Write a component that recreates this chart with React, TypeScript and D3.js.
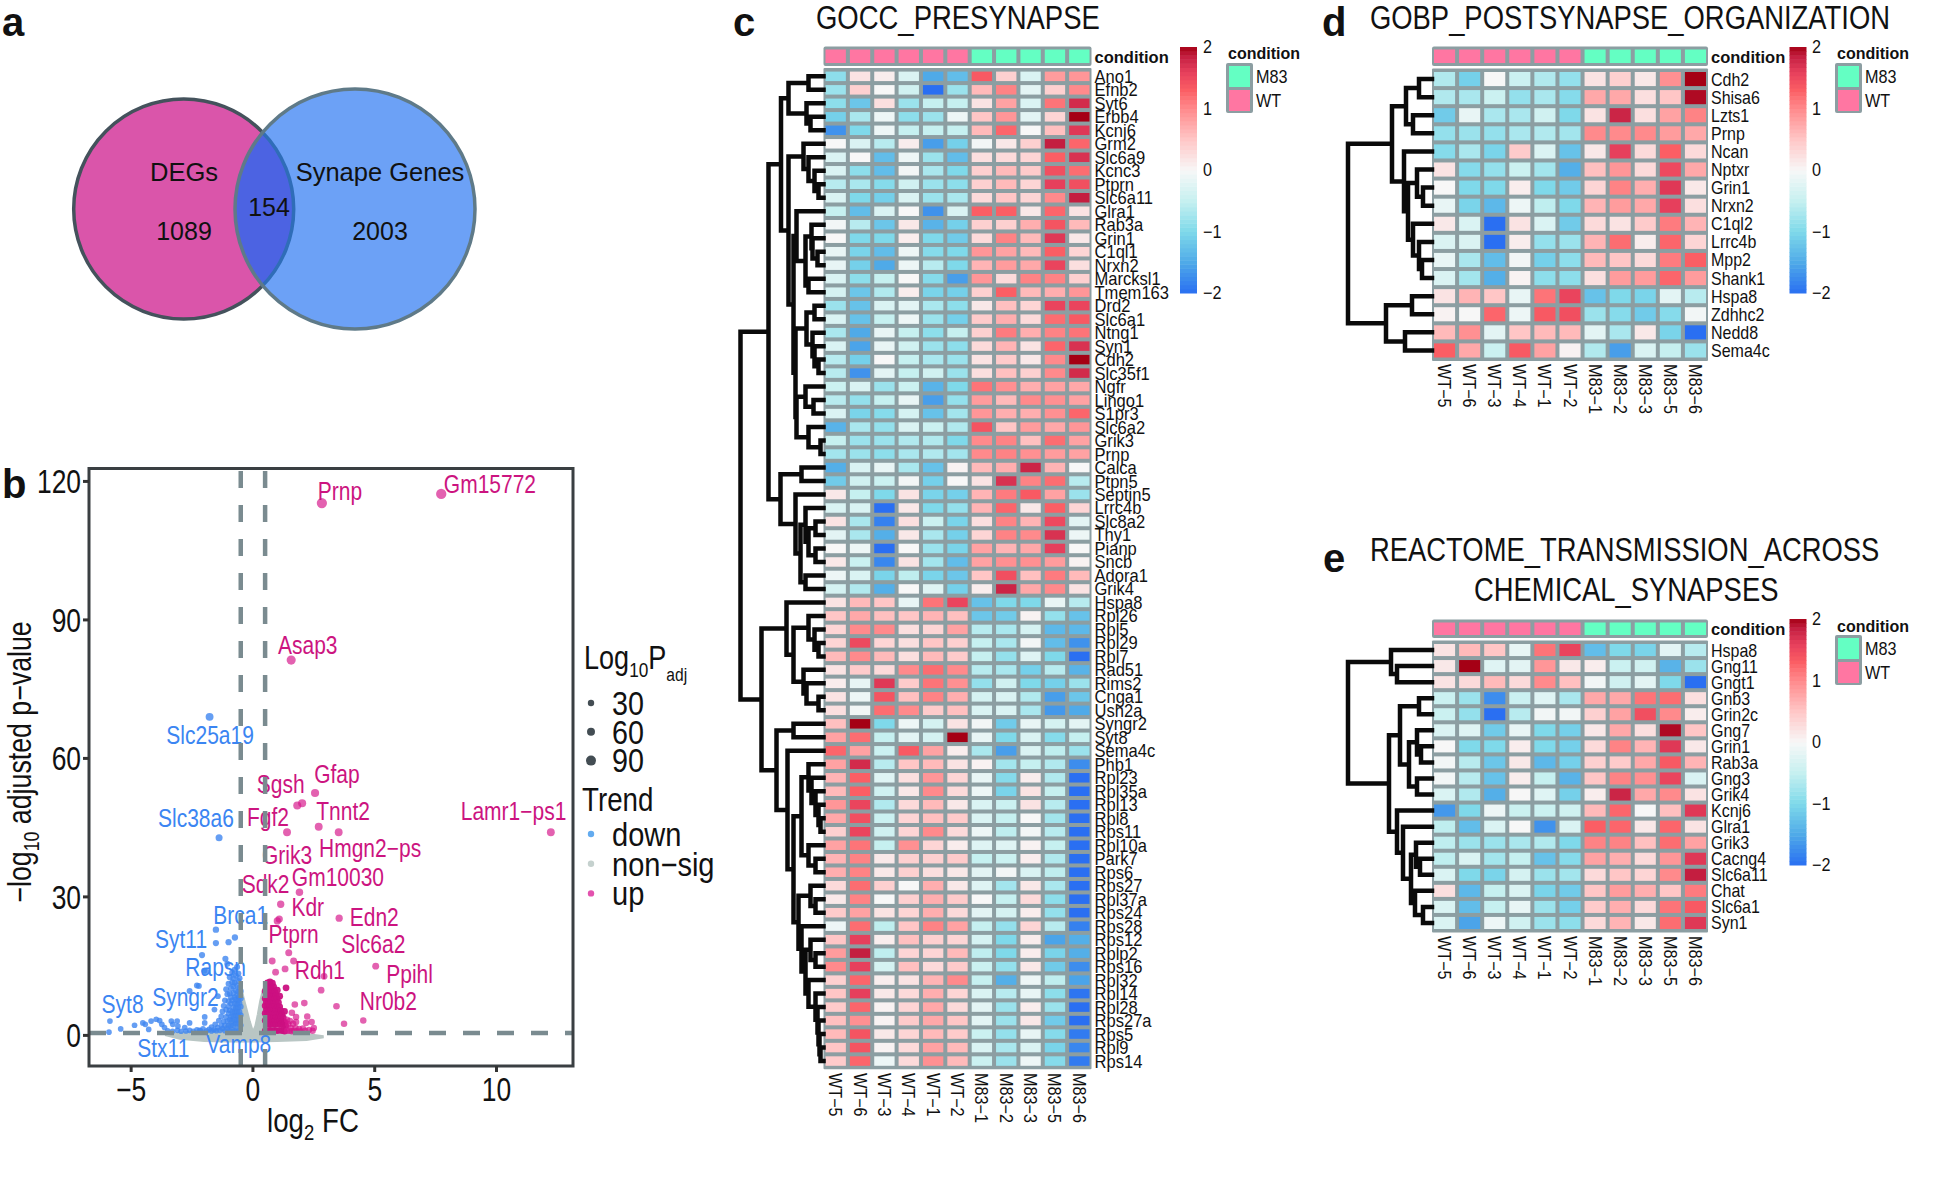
import React from "react";
import * as d3 from "d3";

const FONT = "'Liberation Sans', Arial, sans-serif";
const GRID = "#8C9EA2";
const samples = ["WT−5","WT−6","WT−3","WT−4","WT−1","WT−2","M83−1","M83−2","M83−3","M83−5","M83−6"];
const conditionRow = ["WT","WT","WT","WT","WT","WT","M83","M83","M83","M83","M83"];
const conditionColor: Record<string,string> = { WT: "#FF76A2", M83: "#64FFC3" };

const genesC = ["Ano1","Efnb2","Syt6","Erbb4","Kcnj6","Grm2","Slc6a9","Kcnc3","Ptprn","Slc6a11","Glra1","Rab3a","Grin1","C1ql1","Nrxn2","Marcksl1","Tmem163","Drd2","Slc6a1","Ntng1","Syn1","Cdh2","Slc35f1","Ngfr","Lingo1","S1pr3","Slc6a2","Grik3","Prnp","Calca","Ptpn5","Septin5","Lrrc4b","Slc8a2","Thy1","Pianp","Sncb","Adora1","Grik4","Hspa8","Rpl26","Rpl5","Rpl29","Rpl7","Rad51","Rims2","Cnga1","Ush2a","Syngr2","Syt8","Sema4c","Phb1","Rpl23","Rpl35a","Rpl13","Rpl8","Rps11","Rpl10a","Park7","Rps6","Rps27","Rpl37a","Rps24","Rps28","Rps12","Rplp2","Rps16","Rpl32","Rpl14","Rpl28","Rps27a","Rps5","Rpl9","Rps14"];
const valuesC = [
[-0.9,0.2,0.1,-0.3,-1.5,-1.3,1.35,0.4,-0.3,0.85,0.9],
[-0.8,0.4,0,-0.4,-2,-0.8,0.6,1.05,-0.2,0.4,1],
[-0.9,-1.2,0.25,-0.8,-0.5,-0.5,0.2,0.8,-0.3,1.15,1.75],
[-1.1,-0.7,-0.1,-0.9,-0.8,-0.1,0.5,0.9,-0.2,0.35,2],
[-1.7,-1,-0.1,-0.5,-0.5,-0.5,0.6,1.25,0,0.55,1.65],
[0,-0.3,-0.6,0.1,-1.6,-1.1,-0.05,0.15,0.4,1.85,1.25],
[-0.3,0,-1.3,-0.1,-0.8,-1.3,0.25,0.3,0.35,1.3,1.7],
[-0.3,-0.9,-1.3,-0.05,-0.7,-1,0.4,0.6,0.45,1.45,1.2],
[-0.6,-0.7,-0.95,-0.4,-0.8,-0.9,0.4,0.6,0.35,1.6,1.45],
[-0.3,-1,-1.1,-0.3,-0.8,-0.7,0.3,0.5,0.35,1,1.85],
[-0.5,-1.3,-0.3,0,-1.7,-0.3,1.3,1.3,0.15,1.25,0.2],
[-0.05,-0.6,-1.2,0.15,-1.4,-1.1,0.4,0.4,0.7,1.4,0.6],
[0,-1,-1,0.1,-1,-1.15,0.3,1.05,0.6,1.65,0.15],
[-0.15,-1.05,-1.3,-0.1,-0.95,-1,0.9,0.8,0.6,1.3,0.35],
[-0.15,-1.1,-1.5,-0.1,-0.6,-1,0.65,0.85,0.75,1.55,0.25],
[-0.3,-0.9,-0.5,0,-0.95,-1.6,0.9,0.3,1.05,1.05,0.4],
[-0.35,-1.2,-0.65,0.1,-1.05,-1.1,0.4,1.3,0.6,0.7,0.9],
[-0.8,-1.25,-0.3,-0.2,-0.7,-0.9,0.15,0.55,0.35,1.55,1.55],
[-0.3,-1.25,-0.5,-0.1,-0.8,-1.1,0.45,0.7,0.3,1.2,1.35],
[-0.7,-1.5,-0.15,-0.5,-0.9,-0.5,0.4,1.1,0.7,1.05,1.15],
[-0.3,-1.55,-0.15,-0.4,-0.8,-0.9,0.3,0.65,0.2,1.25,1.7],
[-0.6,-1.1,0,-0.5,-0.7,-0.8,0.2,0.45,0.15,1,2],
[-0.6,-1.7,-0.2,-0.5,-0.4,-0.8,0.25,0.55,0.4,1,1.75],
[-0.45,-0.3,-0.8,-0.45,-1.4,-1,1.15,0.95,0.7,0.8,0.75],
[-0.6,-0.85,-0.5,-0.15,-1.6,-0.85,0.85,0.6,1,0.95,0.8],
[-0.3,-1.05,-0.95,-0.35,-1.25,-0.75,0.9,0.7,0.7,0.95,1.25],
[-1.4,-0.7,-0.85,-0.3,-0.45,-0.65,1.4,0.5,0.85,0.75,0.9],
[-0.5,-0.8,-0.8,-0.65,-0.65,-1,1,1.05,0.55,1.2,0.8],
[-0.75,-0.8,-0.9,-0.7,-0.65,-0.75,1,1.05,0.95,0.85,0.8],
[-1.45,-0.3,-0.15,-0.7,-1.25,0.05,0.6,0.7,1.8,0.65,0],
[-1.15,-0.4,-0.45,-0.05,-1.1,0,0.2,1.7,1.05,1.2,-0.6],
[0.15,-0.5,-1,0.2,-1.05,-1.1,0.65,1.1,1.35,0.8,-0.8],
[-0.3,-0.3,-2,0.15,-1,-0.85,0.65,1.25,0.15,1.3,0.35],
[0.2,-0.7,-1.85,0.25,-0.45,-1.05,0.25,1.05,0.65,1.5,-0.2],
[-0.2,-0.7,-1.45,0.15,-0.7,-1.1,0.35,1.05,1,1.7,-0.1],
[0,-0.1,-2,0,-0.8,-1.05,0.8,0.65,0.75,1.6,0],
[0.15,-0.45,-1.8,0.2,-0.75,-1.3,0.8,0.95,0.95,0.85,0.05],
[-0.1,-0.3,-1.05,-0.55,-1.05,-1.2,0.5,1.45,0.55,1.1,0.6],
[-0.35,-0.65,-1.45,0,-0.25,-1.1,0.1,1.8,0.75,1,0.2],
[0.2,0.6,0.5,-0.15,1.15,1.55,-1.25,-1,-1,-0.15,-0.6],
[0.5,0.75,0.55,0.5,0.65,0.55,-1.2,-1.15,0.05,-0.85,-1.25],
[0.35,1,1,0.25,0.35,0.8,-0.6,-0.7,-0.35,-1.35,-1.35],
[0.35,1.5,0.35,0.25,0.5,0.4,-0.5,-0.7,-0.05,-1.3,-1.7],
[0.6,1,0.6,0.25,0.6,0.45,-0.5,-0.85,-0.25,-1,-2],
[0.2,0.45,0.3,1,1.2,1,-0.6,-0.7,-1.1,-0.6,-1.4],
[0.1,-0.15,1.65,0.45,1.15,0.95,-0.85,-0.4,-1,-1.1,-0.8],
[0.2,-0.1,1.4,0.55,1.05,0.7,-0.35,-0.3,-0.65,-1.6,-1.2],
[0.25,-0.05,1.2,1,0.45,0.55,-0.3,-0.3,-0.7,-1.65,-1.5],
[0.55,2,-1,-0.1,-0.35,0.2,-0.05,-1.15,-0.15,-0.35,-0.2],
[0.8,1.2,-0.5,-0.2,-0.35,2,-0.15,-1,-0.3,-0.95,-0.5],
[1.25,0.8,-0.45,1.35,0.8,0.1,-0.7,-1.6,-0.3,-0.55,-0.8],
[0.8,1.75,-0.6,0.5,0.6,0.2,0.05,-0.75,-0.5,-0.65,-1.75],
[0.65,1.3,-0.25,0.25,0.9,0.35,-0.15,-0.95,0.1,-0.65,-2],
[0.6,1.3,-0.4,0.15,1,0.3,-0.1,-1.05,0.2,-0.5,-2],
[0.9,1.55,-0.65,0.3,0.6,0.15,-0.3,-0.45,0.2,-0.6,-2],
[0.75,1.45,-0.45,0.35,0.55,0.45,-0.3,-0.5,0,-0.75,-2],
[0.4,1.55,-0.4,0.35,1,0.3,-0.1,-0.55,-0.05,-0.6,-2],
[0.8,1.15,-0.5,0.95,0.35,0.1,-0.25,-0.25,0.05,-0.5,-2],
[0.65,1.05,0.15,0.4,0.4,0.45,-0.5,-0.45,0.1,-0.65,-2],
[0.7,1.05,0.15,0.4,0.25,0.15,-0.2,-0.05,-0.3,-0.55,-2],
[0.3,1.2,0.4,0,0.7,0.15,-0.25,-0.75,0.15,-0.7,-2],
[0.15,1.05,0,0.4,0.7,0.45,0,-0.5,0.3,-0.9,-2],
[0.45,0.8,0.2,0.35,0.7,0.3,-0.2,-0.35,0.1,-0.85,-2],
[-0.1,1.2,-0.55,0.5,1.05,0.8,-0.5,-0.85,0.35,-0.6,-1.85],
[0.5,1.6,0.1,0.55,0.4,0.35,-0.35,-1,0.1,-1.55,-1.45],
[0.85,1.85,-0.55,0.35,0.35,0.6,-0.55,-1,0.1,-1.05,-1.45],
[1,1.6,-0.35,0.55,0.3,0.45,-0.45,-0.85,0.15,-1.15,-1.75],
[0.4,1.25,0.1,0.2,0.65,1,-0.5,-1.45,-0.1,-0.55,-1.55],
[0.5,1.6,0.15,0.3,0.7,0.35,-0.3,-0.6,-0.15,-0.9,-1.95],
[0.45,1.25,0.05,0.35,0.75,0.3,-0.2,-0.8,0.1,-0.8,-2],
[0.55,0.95,0.05,0.45,0.75,0.5,-0.2,-0.8,0.15,-1.15,-2],
[0.6,1.4,0.15,0.35,0.6,0.45,-0.45,-0.85,-0.15,-0.95,-1.9],
[0.5,1.4,0.05,0.3,0.8,0.6,-0.3,-0.7,-0.3,-1.05,-1.8],
[0.45,1.25,-0.1,0.3,0.95,0.6,-0.45,-0.8,-0.1,-0.95,-1.9],
];

const genesD = ["Cdh2","Shisa6","Lzts1","Prnp","Ncan","Nptxr","Grin1","Nrxn2","C1ql2","Lrrc4b","Mpp2","Shank1","Hspa8","Zdhhc2","Nedd8","Sema4c"];
const valuesD = [
[-0.65,-1.1,0,-0.45,-0.65,-0.85,0.2,0.4,0.15,0.95,2],
[-0.65,-0.7,-0.45,-0.85,-0.7,-0.95,0.75,0.75,0.25,0.5,1.95],
[-1.15,-0.15,-0.7,-0.7,-0.4,-1,0.2,1.8,0.25,0.8,1.05],
[-0.85,-0.8,-0.85,-0.7,-0.65,-0.75,1,1,1,0.85,0.75],
[-0.95,-0.7,-1.05,0.45,-0.3,-1.25,0.15,1.6,0.3,1.3,0.3],
[0.2,-0.95,-0.85,-0.45,-0.75,-1.45,0.55,0.9,0.3,1.5,0.75],
[0,-1,-1,0.1,-1,-1.15,0.35,1.05,0.7,1.65,0.15],
[-0.15,-1.05,-1.35,-0.1,-0.55,-1,0.65,0.85,0.75,1.6,0.25],
[0.15,-0.3,-2,0.2,-0.3,-1.15,0.3,0.2,0.45,1.1,0.65],
[-0.3,-0.3,-2,0.1,-0.85,-0.8,0.65,1.2,0.1,1.25,0.35],
[-0.15,-0.7,-1.3,-0.05,-1.1,-0.9,0.6,0.5,0.3,1.1,1.3],
[-0.3,-0.75,-1.45,0.05,-0.9,-0.9,0.25,0.85,0.85,1.25,0.85],
[0.2,0.65,0.5,-0.15,1.15,1.55,-1.25,-1,-1.05,-0.2,-0.6],
[0.05,0,1.25,-0.1,1.35,1.45,-0.8,-0.95,-1.15,-0.95,-0.05],
[0.6,0.95,-0.2,0.5,0.6,0.6,-0.2,-0.7,0.15,-1.05,-2],
[1.3,0.75,-0.45,1.35,0.8,0.05,-0.65,-1.6,-0.3,-0.5,-0.8],
];

const genesE = ["Hspa8","Gng11","Gngt1","Gnb3","Grin2c","Gng7","Grin1","Rab3a","Gng3","Grik4","Kcnj6","Glra1","Grik3","Cacng4","Slc6a11","Chat","Slc6a1","Syn1"];
const valuesE = [
[0.2,0.6,0.5,-0.15,1.15,1.55,-1.3,-1,-1.05,-0.2,-0.6],
[0.15,2,-0.25,-0.2,0.9,0.15,0.1,-0.45,-0.4,-1.4,-0.8],
[0.2,0.3,0.6,0.3,1,0.55,-0.05,-0.4,-0.2,-1,-2],
[-0.45,-0.8,-1.75,-0.45,-0.25,-0.7,0.75,0.75,1.15,1.2,0.25],
[-0.45,-0.85,-2,-0.6,-0.05,-0.05,0.4,0.8,1.45,1,0.1],
[-0.3,-0.25,-1.15,-0.15,-1,-1.1,0.15,0.75,0.25,1.95,0.5],
[0,-1,-1,0.1,-1,-1.1,0.3,1.05,0.65,1.65,0.15],
[-0.05,-0.6,-1.2,0.15,-1.35,-1.1,0.4,0.45,0.75,1.35,0.65],
[-0.05,-0.6,-1.25,0.1,-0.5,-1.4,0.5,1.05,0.95,1.55,-0.3],
[-0.3,-0.65,-1.45,0,-0.25,-1.1,0.1,1.8,0.75,1,0.2],
[-1.65,-1,-0.1,-0.45,-0.45,-0.4,0.6,1.25,0,0.55,1.65],
[-0.55,-1.3,-0.3,0,-1.7,-0.3,1.3,1.25,0.15,1.25,0.2],
[-0.55,-0.8,-0.8,-0.7,-0.65,-1,1.05,1.05,0.55,1.2,0.8],
[-0.55,-0.3,-0.75,-0.5,-1.25,-0.95,0.8,0.7,0.3,0.9,1.65],
[-0.3,-1,-1.05,-0.35,-0.8,-0.75,0.3,0.5,0.35,1,1.85],
[0.25,-1.35,-0.5,-0.3,-1.05,-1.15,0.5,0.85,0.7,0.5,1.1],
[-0.3,-1.3,-0.5,-0.15,-0.8,-1.1,0.45,0.7,0.3,1.15,1.35],
[-0.3,-1.55,-0.1,-0.4,-0.8,-0.9,0.3,0.65,0.15,1.2,1.65],
];

// dendrograms: [merge height, left, right], L = next leaf
const L = 0;
const treeC: any = [83,
 [55,
  [42.5,
   [35,[15,L,L],[17,L,[13,L,L]]],
   [35,[20,L,[15,L,[9,L,[5,L,L]]]],
    [30,[27,L,[18,[12,L,[11,L,[6,L,L]]],[15,L,L]]],
     [28,[17,[9,L,L],[11,L,[9,L,[5,L,L]]]],
      [27,[18,L,[10,L,L]],[15,L,[3,L,L]]]]]]],
  [43,[22,L,L],[28,L,[23,[18,L,[15,[8,L,L],[8,L,L]]],[18,L,L]]]]],
 [62,
  [37,L,[30,[15,L,[9,L,[5,L,L]]],[20,L,[17,L,[5,L,L]]]]],
  [47,[30,L,L],[36,L,[30,[22,[15,L,[12,L,[8,L,[5,L,[3,L,L]]]]],[15,L,[8,L,L]]],
   [25,[13,L,[8,L,L]],[22,L,[18,[13,L,[8,L,L]],[15,L,[8,L,[6,L,[5,L,[4,L,[3,L,L]]]]]]]]]]]]]];
const treeD: any = [84,
 [40,[26,[13,L,L],[19,L,L]],
  [28,L,[24,[15,L,[9,L,L]],[19,L,[13,L,[10,L,L]]]]]],
 [46,[20,L,L],[27,L,L]]];
const treeE: any = [84,
 [41,L,[35,L,L]],
 [43,[32,[13,L,L],[23,[15,L,[11,L,L]],[15,L,L]]],
  [35,L,[29,L,[21,[16,L,[12,L,L]],[17,L,[9,L,L]]]]]]];

const heatDomain = [-2,-1.5,-1,-0.5,0,0.5,1,1.3,1.6,1.85,2];
const heatRange = ["#2A6FF2","#4FAAE8","#7FD9EA","#C6F0F0","#F7F7F7","#FFC6C6","#FF8A8C","#FB5E64","#E63F5C","#C41E40","#A50015"];
const heatColor = d3.scaleLinear<string>().domain(heatDomain).range(heatRange).clamp(true);
const colorbarTicks = [2,1,0,-1,-2];

// volcano
const xTicks = [-5,0,5,10];
const yTicks = [0,30,60,90,120];
const pThreshold = 0.5;
const fcThresholds = [-0.5,0.5];
const nonSigOutline: [number,number][] = [[-3.6,0.2],[-2.5,0.7],[-1.8,1],[-1.2,1.4],[-0.92,3],[-0.75,6],[-0.6,9],[-0.47,9.7],[-0.4,8],[-0.3,6],[-0.15,3],[-0.05,1.3],[0.03,0.9],[0.12,2],[0.22,4.5],[0.32,7.5],[0.42,9.5],[0.5,9.6],[0.58,6],[0.72,2],[1,1.2],[1.5,0.8],[2.2,0.2],[2.9,-0.3],[2.2,-0.9],[1,-1.1],[0,-1.2],[-1,-1.2],[-2,-1.1],[-3,-0.6]];
const downPoints: [number,number][] = [[-1.78,69],[-1.39,42.8],[-1.52,22.9],[-1.52,20],[-1,20.2],[-0.74,21.2],[-2.09,17.4],[-1.13,16.6],[-2,14],[-2.6,9.6],[-2.3,10.8],[-1.9,13.8],[-1.05,15.5],
[-5.87,3.1],[-5.91,0.7],[-5.43,1.4],[-4.86,2.2],[-4.52,2.7],[-4.42,2.4],[-4.28,1.3],[-4.18,3.1],[-3.97,3.5],[-3.83,3.2],[-3.74,2.4],[-3.63,1.7],[-3.35,3.1],[-3.11,3.1],[-3.29,2.4],[-3.08,2],[-2.8,1.7],[-2.6,2.7],[-2.19,1.1],[-1.98,4],[-1.98,2.7],[-1.58,5.6],[-1.44,8.5],[-2.22,10.7],[-1.1,10],
[-3.5,1],[-3.3,0.9],[-3.1,1.1],[-2.95,0.9],[-2.75,0.95],[-2.6,1.1],[-2.45,0.9],[-2.3,1.2],[-2.15,1],[-2.05,1.4],[-1.9,1],[-1.8,1.3],[-1.7,1.8],[-1.7,0.95],[-1.6,1.2],[-1.55,2.4],[-1.5,1],[-1.45,1.7],[-1.4,3.2],[-1.35,1.1],[-1.3,2.2],[-1.3,4.1],[-1.25,5.2],[-1.25,1.5],[-1.2,3],[-1.2,6.4],[-1.15,1],[-1.15,2.2],[-1.15,7.6],[-1.1,4],[-1.1,5.6],[-1.05,1.5],[-1.05,3.1],[-1.05,8.9],[-1,2.1],[-1,4.7],[-1,6.3],[-1,7.4],[-1,11.2],[-0.95,1],[-0.95,3.4],[-0.95,5.4],[-0.95,9.1],[-0.95,12.6],[-0.9,2.2],[-0.9,4.1],[-0.9,6.9],[-0.9,8.2],[-0.9,10.2],[-0.85,1.2],[-0.85,3.1],[-0.85,5.2],[-0.85,7.6],[-0.85,11.5],[-0.85,13.6],[-0.8,2.2],[-0.8,4.2],[-0.8,6.1],[-0.8,9.2],[-0.8,10.6],[-0.8,12.4],[-0.75,1],[-0.75,3.3],[-0.75,5],[-0.75,7],[-0.75,8.3],[-0.75,11.4],[-0.75,14.2],[-0.7,2.5],[-0.7,4.3],[-0.7,6],[-0.7,7.8],[-0.7,9.7],[-0.7,12.9],[-0.65,1.3],[-0.65,3.4],[-0.65,5.2],[-0.65,6.8],[-0.65,8.7],[-0.65,10.8],[-0.65,14.8],[-0.6,2.4],[-0.6,4.2],[-0.6,6],[-0.6,7.6],[-0.6,9.5],[-0.6,11.8],[-0.6,13.4],[-0.55,1.1],[-0.55,3.3],[-0.55,5.1],[-0.55,7],[-0.55,8.4],[-0.55,10.4],[-0.55,12.4],[-0.5,2.2],[-0.5,4.4],[-0.5,6.2],[-0.5,8],[-0.5,9.6]];
const upPoints: [number,number][] = [[2.83,115.3],[7.73,117.3],[1.57,81.3],[2.55,52.5],[2.02,50.3],[1.82,49.8],[2.7,45.2],[1.4,44],[3.52,44],[12.23,44],[1.91,31],[1.14,28.4],[1.08,25.2],[1,24.8],[3.54,25.4],[0.79,16.1],[1.47,17.9],[1.67,16.1],[1.32,14.4],[0.93,13.7],[5.04,15],[2.92,12.8],[2.8,9.8],[3.43,6.3],[3.74,2.5],[4.53,3.2],
[1.72,6.7],[2.11,7],[2.23,4.1],[1.6,4.9],[1.36,10.3],[1.77,4],[1.77,2.9],[1.52,3.1],[2.41,2.9],[2.18,2.7],
[0.5,1],[0.5,3.2],[0.5,4.8],[0.5,6.4],[0.5,8],[0.5,9.6],[0.55,2.4],[0.55,4],[0.55,5.6],[0.55,7.2],[0.55,8.8],[0.55,10.5],[0.6,1],[0.6,3.2],[0.6,4.8],[0.6,6.4],[0.6,8],[0.6,9.6],[0.6,11.4],[0.65,2.4],[0.65,4],[0.65,5.6],[0.65,7.2],[0.65,8.8],[0.65,10.7],[0.7,1.1],[0.7,3.2],[0.7,4.8],[0.7,6.4],[0.7,8],[0.7,9.6],[0.7,11.6],[0.75,2.4],[0.75,4],[0.75,5.6],[0.75,7.2],[0.75,8.8],[0.75,10.4],[0.8,1],[0.8,3.2],[0.8,4.8],[0.8,6.4],[0.8,8],[0.8,9.7],[0.8,11.3],[0.85,2.4],[0.85,4],[0.85,5.6],[0.85,7.2],[0.85,8.8],[0.85,10.5],[0.9,1.1],[0.9,3.2],[0.9,4.8],[0.9,6.4],[0.9,8],[0.9,9.5],[0.95,2.4],[0.95,4],[0.95,5.6],[0.95,7.2],[0.95,8.8],[1,1],[1,3.2],[1,4.8],[1,6.4],[1,8],[1,9.8],[1.05,2.4],[1.05,4],[1.05,5.6],[1.05,7.1],[1.1,1.1],[1.1,3.2],[1.1,4.8],[1.1,6.2],[1.1,8.5],[1.15,2.4],[1.15,4],[1.15,5.4],[1.2,1],[1.2,3.1],[1.2,4.6],[1.25,2.2],[1.25,3.8],[1.3,0.9],[1.3,2.9],[1.3,5.2],[1.35,2.1],[1.4,1],[1.4,3.4],[1.45,2.4],[1.5,1],[1.55,1.6],[1.6,0.9],[1.65,2.5],[1.7,1],[1.75,1.6],[1.8,0.9],[1.9,1.4],[1.95,0.9],[2.05,1.5],[2.15,1],[2.3,1.2],[2.45,1],[2.5,1.6]];
const labelsDown: [string,number,number][] = [["Slc25a19",-1.76,65],["Slc38a6",-2.34,47.2],["Brca1",-0.5,26],["Syt11",-2.95,20.8],["Rapsn",-1.53,14.9],["Syngr2",-2.77,8.4],["Syt8",-5.35,6.8],["Stx11",-3.68,-2.7],["Vamp8",-0.58,-1.8]];
const labelsUp: [string,number,number][] = [["Prnp",3.57,117.9],["Gm15772",9.73,119.5],["Asap3",2.25,84.6],["Gfap",3.45,56.6],["Sgsh",1.14,54.4],["Fgf2",0.62,47.4],["Tnnt2",3.7,48.5],["Lamr1−ps1",10.7,48.5],["Hmgn2−ps",4.81,40.7],["Grik3",1.4,39],["Gm10030",3.49,34.3],["Sdk2",0.52,32.9],["Kdr",2.25,27.9],["Edn2",4.98,25.6],["Ptprn",1.67,22],["Slc6a2",4.94,19.9],["Rdh1",2.75,14.2],["Ppihl",6.43,13.2],["Nr0b2",5.56,7.4]];
const sizeLegend: [string,number][] = [["30",3.2],["60",4],["90",5]];
const trendLegend: [string,string][] = [["down","#63ABEF"],["non−sig","#C5D1CE"],["up","#E352AE"]];

function T({x,y,size=16,sx=1,anchor="start",weight,fill="#111",rotate=0,children}: any){
  return <text transform={`translate(${x},${y}) rotate(${rotate}) scale(${sx},1)`} fontSize={size} fontFamily={FONT} textAnchor={anchor} fontWeight={weight} fill={fill} dy=".36em">{children}</text>;
}

function Dendro({tree,rowY,right,strokeW}: any){
  let leaf = 0; const parts: string[] = [];
  const x = d3.scaleLinear().domain([0,1]).range([right,right-1]);
  const walk = (n: any): {y:number,d:number} => {
    if(!Array.isArray(n)){ return {y:rowY(leaf++),d:0}; }
    const a = walk(n[1]), b = walk(n[2]);
    parts.push(`M${x(a.d)},${a.y}H${x(n[0])}V${b.y}H${x(b.d)}`);
    return {y:(a.y+b.y)/2,d:n[0]};
  };
  walk(tree);
  return <path d={parts.join("")} fill="none" stroke="#0a0a0a" strokeWidth={strokeW} strokeLinecap="square"/>;
}

function Heat({genes,values,tree,left,right,annTop,annBottom,top,bottom,labelSize,labelSx,stroke,dendroW,sampleY,condY,barX,barLabelX,barTop,barBottom,legX,legLabelX,legTitleY,legTop,legBottom}: any){
  const x = d3.scaleBand<number>().domain(d3.range(11)).range([left,right]);
  const y = d3.scaleBand<number>().domain(d3.range(genes.length)).range([top,bottom]);
  const barY = d3.scaleLinear().domain([2,-2]).range([barTop,barBottom]);
  const steps = d3.range(-2,2.0001,4/60);
  const stepH = (barBottom-barTop)/60;
  const lh = (legBottom-legTop-4)/2;
  return <g>
    <rect x={left} y={annTop} width={right-left} height={annBottom-annTop} fill={GRID} rx={2}/>
    {conditionRow.map((c,i)=><rect key={i} x={x(i)!+stroke/2} y={annTop+3} width={x.bandwidth()-stroke} height={annBottom-annTop-6} fill={conditionColor[c]}/>)}
    <T x={right+3} y={condY} size={16.5} weight="bold">condition</T>
    <rect x={left} y={top-1.5} width={right-left} height={bottom-top+3} fill={GRID} rx={1}/>
    {values.map((row:number[],r:number)=>row.map((v,c)=><rect key={r+"-"+c} x={x(c)!+stroke/2} y={y(r)!+stroke/2} width={x.bandwidth()-stroke} height={y.bandwidth()-stroke} fill={heatColor(v)}/>))}
    {genes.map((g:string,r:number)=><T key={g} x={right+3} y={y(r)!+y.bandwidth()/2} size={labelSize} sx={labelSx}>{g}</T>)}
    {samples.map((s,i)=><T key={s} x={x(i)!+x.bandwidth()/2} y={sampleY} size={18} sx={0.9} rotate={90}>{s}</T>)}
    <Dendro tree={tree} rowY={(i:number)=>y(i)!+y.bandwidth()/2} right={left} strokeW={dendroW}/>
    {steps.slice(0,-1).map((v,i)=><rect key={i} x={barX} y={barBottom-(i+1)*stepH} width={17} height={stepH+0.5} fill={heatColor(v+2/60)}/>)}
    {colorbarTicks.map(t=><T key={t} x={barLabelX} y={barY(t)} size={18} sx={0.9}>{t<0?"−"+(-t):t}</T>)}
    <T x={legX+2} y={legTitleY} size={16} weight="bold">condition</T>
    <rect x={legX} y={legTop} width={27} height={legBottom-legTop} fill={GRID} rx={2}/>
    <rect x={legX+3} y={legTop+3} width={21} height={lh-2} fill={conditionColor.M83}/>
    <rect x={legX+3} y={legTop+3+lh+1} width={21} height={lh-2} fill={conditionColor.WT}/>
    <T x={legLabelX} y={legTop+1+lh/2+1} size={18} sx={0.9}>M83</T>
    <T x={legLabelX} y={legTop+3+lh*1.5} size={18} sx={0.9}>WT</T>
  </g>;
}

function Venn(){
  const c1 = {x:183.7,y:209,r:110}, c2 = {x:355,y:209,r:120};
  return <g>
    <defs>
      <clipPath id="inR"><circle cx={c2.x} cy={c2.y} r={c2.r}/></clipPath>
    </defs>
    <circle cx={c1.x} cy={c1.y} r={c1.r} fill="#DA55AA" stroke="#44525C" strokeWidth={3.5}/>
    <circle cx={c2.x} cy={c2.y} r={c2.r} fill="#6CA1F6"/>
    <circle cx={c1.x} cy={c1.y} r={c1.r} fill="#4C63E2" clipPath="url(#inR)"/>
    <circle cx={c1.x} cy={c1.y} r={c1.r} fill="none" stroke="#2F6DB8" strokeWidth={3.5} clipPath="url(#inR)"/>
    <circle cx={c2.x} cy={c2.y} r={c2.r} fill="none" stroke="#5F7A88" strokeWidth={3.5}/>
    <T x={184} y={171.5} size={25.5} anchor="middle">DEGs</T>
    <T x={380} y={171.5} size={25.5} anchor="middle">Synape Genes</T>
    <T x={184} y={231} size={25} anchor="middle">1089</T>
    <T x={380} y={231} size={25} anchor="middle">2003</T>
    <T x={269} y={207} size={25} anchor="middle">154</T>
  </g>;
}

function Volcano(){
  const x = d3.scaleLinear().domain([-6.73,13.14]).range([89,573]);
  const y = d3.scaleLinear().domain([-6.63,122.8]).range([1066,468.5]);
  const r = d3.scaleLinear().domain([0,120]).range([2.8,4.8]);
  const outline = d3.line<[number,number]>().x(d=>x(d[0])).y(d=>y(d[1])).curve(d3.curveLinearClosed)(nonSigOutline)!;
  const sx = 0.84, ts = 0.8;
  const dash = {stroke:"#7A8B90",strokeWidth:4.5,strokeDasharray:"17 17"};
  return <g>
    <path d={outline} fill="#B9C6C4" stroke="#B9C6C4" strokeWidth={3}/>
    {downPoints.map((p,i)=><circle key={i} cx={x(p[0])} cy={y(p[1])} r={r(p[1])} fill="#3F86F0" opacity={0.8}/>)}
    {upPoints.map((p,i)=><circle key={i} cx={x(p[0])} cy={y(p[1])} r={r(p[1])+0.4} fill={p[1]<12&&p[0]<1.4?"#CB1081":"#D5168A"} opacity={p[1]<12&&p[0]<1.4?0.95:0.68}/>)}
    {labelsDown.map(([s,a,b])=><T key={s} x={x(a)} y={y(b)} size={25} sx={sx} anchor="middle" fill="#3B85F2">{s}</T>)}
    {labelsUp.map(([s,a,b])=><T key={s} x={x(a)} y={y(b)} size={25} sx={sx} anchor="middle" fill="#CC1480">{s}</T>)}
    {fcThresholds.map(t=><line key={t} x1={x(t)} x2={x(t)} y1={1066} y2={468.5} {...dash}/>)}
    <line x1={89} x2={573} y1={y(pThreshold)} y2={y(pThreshold)} {...dash}/>
    <rect x={89} y={468.5} width={484} height={597.5} fill="none" stroke="#3A3F42" strokeWidth={3}/>
    {xTicks.map(t=><g key={t}><line x1={x(t)} x2={x(t)} y1={1066} y2={1072} stroke="#333" strokeWidth={3}/>
      <T x={x(t)} y={1089} size={33} sx={ts} anchor="middle">{t<0?"−"+(-t):t}</T></g>)}
    {yTicks.map(t=><g key={t}><line x1={83} x2={89} y1={y(t)} y2={y(t)} stroke="#333" strokeWidth={3}/>
      <T x={81} y={y(t)} size={33} sx={ts} anchor="end">{t}</T></g>)}
    <text transform="translate(313,1132) scale(0.84,1)" fontFamily={FONT} fontSize={33} textAnchor="middle" fill="#111">log<tspan fontSize={22} dy={8}>2</tspan><tspan dy={-8}> FC</tspan></text>
    <text transform="translate(31,762) rotate(-90) scale(0.81,1)" fontFamily={FONT} fontSize={33} textAnchor="middle" fill="#111">−log<tspan fontSize={22} dy={8}>10</tspan><tspan dy={-8}> adjusted p−value</tspan></text>
    <text transform="translate(584,669) scale(0.82,1)" fontFamily={FONT} fontSize={33} fill="#111">Log<tspan fontSize={21} dy={8}>10</tspan><tspan dy={-8}>P</tspan><tspan fontSize={19} dy={12}>adj</tspan></text>
    {sizeLegend.map(([s,rr],i)=><g key={s}><circle cx={591} cy={703+i*28.8} r={rr} fill="#2F3A40" opacity={0.9}/><T x={612} y={703+i*28.8} size={33} sx={0.87}>{s}</T></g>)}
    <T x={582} y={799} size={33} sx={0.84}>Trend</T>
    {trendLegend.map(([s,c],i)=><g key={s}><circle cx={591} cy={834+i*29.7} r={3.2} fill={c}/><T x={612} y={834+i*29.7} size={33} sx={0.88}>{s}</T></g>)}
  </g>;
}

export default function App(){
  return <svg width={1934} height={1197} viewBox="0 0 1934 1197" style={{position:"absolute",left:0,top:0,background:"#fff"}}>
    <T x={2} y={22} size={40} weight="bold">a</T>
    <T x={2} y={484} size={40} weight="bold">b</T>
    <T x={733} y={22} size={40} weight="bold">c</T>
    <T x={1322} y={22} size={40} weight="bold">d</T>
    <T x={1323} y={558} size={40} weight="bold">e</T>
    <Venn/>
    <Volcano/>
    <T x={816} y={17} size={32.5} sx={0.845}>GOCC_PRESYNAPSE</T>
    <T x={1370} y={17} size={32.5} sx={0.843}>GOBP_POSTSYNAPSE_ORGANIZATION</T>
    <T x={1370} y={549.5} size={32.5} sx={0.843}>REACTOME_TRANSMISSION_ACROSS</T>
    <T x={1474} y={589} size={32.5} sx={0.843}>CHEMICAL_SYNAPSES</T>
    <Heat genes={genesC} values={valuesC} tree={treeC} left={823.5} right={1091.5} annTop={46.5} annBottom={66} top={69.6} bottom={1067.8} labelSize={18} labelSx={0.92} stroke={4} dendroW={4.5} sampleY={1073} condY={57} barX={1180} barLabelX={1203} barTop={47} barBottom={293} legX={1226} legLabelX={1256} legTitleY={53} legTop={63} legBottom={113}/>
    <Heat genes={genesD} values={valuesD} tree={treeD} left={1432} right={1708} annTop={46.5} annBottom={66} top={70} bottom={359.5} labelSize={18} labelSx={0.89} stroke={4} dendroW={4.5} sampleY={364} condY={57} barX={1789.5} barLabelX={1812} barTop={47} barBottom={293} legX={1835} legLabelX={1865} legTitleY={53} legTop={63} legBottom={113}/>
    <Heat genes={genesE} values={valuesE} tree={treeE} left={1432} right={1708} annTop={619.5} annBottom={638} top={642} bottom={931} labelSize={18} labelSx={0.89} stroke={4} dendroW={4.5} sampleY={936} condY={629} barX={1789.5} barLabelX={1812} barTop={619} barBottom={865} legX={1835} legLabelX={1865} legTitleY={626} legTop={635} legBottom={685}/>
  </svg>;
}
